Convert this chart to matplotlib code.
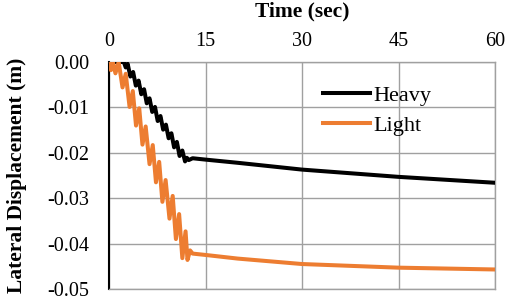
import matplotlib
matplotlib.use("Agg")
import matplotlib.pyplot as plt

# Data (vertices of the curves)
heavy_t = [0, 2.3, 2.6, 2.9, 3.32, 3.75, 4.17, 4.6, 5.02, 5.45, 5.87, 6.3, 6.72, 7.15,
           7.57, 8.0, 8.42, 8.85, 9.27, 9.7, 10.12, 10.55, 10.97, 11.4, 11.82, 12.1, 12.4,
           13.0, 15.0, 20.0, 30.0, 45.0, 60.0]
heavy_v = [0.0, 0.0, -0.0012, -0.0004, -0.0032, -0.0022, -0.0052, -0.0041, -0.0071, -0.0060,
           -0.0091, -0.0080, -0.0110, -0.0099, -0.0130, -0.0119, -0.0149, -0.0138, -0.0168,
           -0.0157, -0.0188, -0.0176, -0.0207, -0.0195, -0.0219, -0.0211, -0.0216,
           -0.0212, -0.0215, -0.0222, -0.0237, -0.0253, -0.0266]

light_t = [0, 0.3, 0.6, 1.0, 1.5, 2.1, 2.6, 3.2, 3.7, 4.2, 4.7, 5.2, 5.7, 6.3, 6.8, 7.3,
           7.8, 8.3, 8.8, 9.4, 9.9, 10.4, 10.9, 11.4, 11.9, 12.2, 12.6, 13.0,
           15.0, 20.0, 30.0, 45.0, 60.0]
light_v = [0.0, -0.0018, 0.0, -0.0025, 0.0, -0.0056, -0.0026, -0.0099, -0.0064, -0.0140,
           -0.0102, -0.0182, -0.0142, -0.0225, -0.0183, -0.0265, -0.0220, -0.0308, -0.0260,
           -0.0345, -0.0295, -0.0390, -0.0335, -0.0432, -0.0373, -0.0436, -0.0415, -0.0422,
           -0.0425, -0.0433, -0.0445, -0.0453, -0.0457]

x_ticks = [0, 15, 30, 45, 60]
y_ticks = [0.0, -0.01, -0.02, -0.03, -0.04, -0.05]
y_tick_labels = ["0.00", "-0.01", "-0.02", "-0.03", "-0.04", "-0.05"]

plt.rcParams['font.family'] = ['Liberation Serif', 'DejaVu Serif']

fig = plt.figure(figsize=(5.05, 3.03), dpi=100)
W, H = 505, 303
ax = fig.add_axes([109 / W, 1 - 289 / H, (495 - 109) / W, (289 - 62) / H])

ax.plot(heavy_t, heavy_v, color='black', lw=2.9, label='Heavy', solid_joinstyle='round', zorder=3)
ax.plot(light_t, light_v, color='#ED7D31', lw=2.9, label='Light', solid_joinstyle='round', zorder=3)

ax.set_xlim(0, 60)
ax.set_ylim(-0.05, 0.0)
ax.set_xticks(x_ticks)
ax.set_yticks(y_ticks)
ax.set_yticklabels(y_tick_labels)
ax.xaxis.tick_top()
ax.xaxis.set_label_position('top')
ax.tick_params(axis='x', length=0, pad=8, labelsize=14.5)
ax.tick_params(axis='y', length=0, pad=14, labelsize=14.5)
ax.grid(True, color='#a0a0a0', lw=1.0, zorder=0)
ax.set_axisbelow(True)

for s in ['top', 'right', 'bottom']:
    ax.spines[s].set_color('#a0a0a0')
    ax.spines[s].set_linewidth(1.0)
ax.spines['left'].set_color('black')
ax.spines['left'].set_linewidth(1.5)

ax.set_xlabel('Time (sec)', fontsize=15.5, fontweight='bold', labelpad=11)
ax.set_ylabel('Lateral Displacement (m)', fontsize=15.5, fontweight='bold', labelpad=15)

leg = ax.legend(loc='upper left', bbox_to_anchor=(323 / W, 1 - 85 / H),
                bbox_transform=fig.transFigure, frameon=False, fontsize=16,
                handlelength=2.1, handletextpad=0.15, labelspacing=0.45,
                borderpad=0, borderaxespad=0)

fig.savefig('out.png', dpi=100)
